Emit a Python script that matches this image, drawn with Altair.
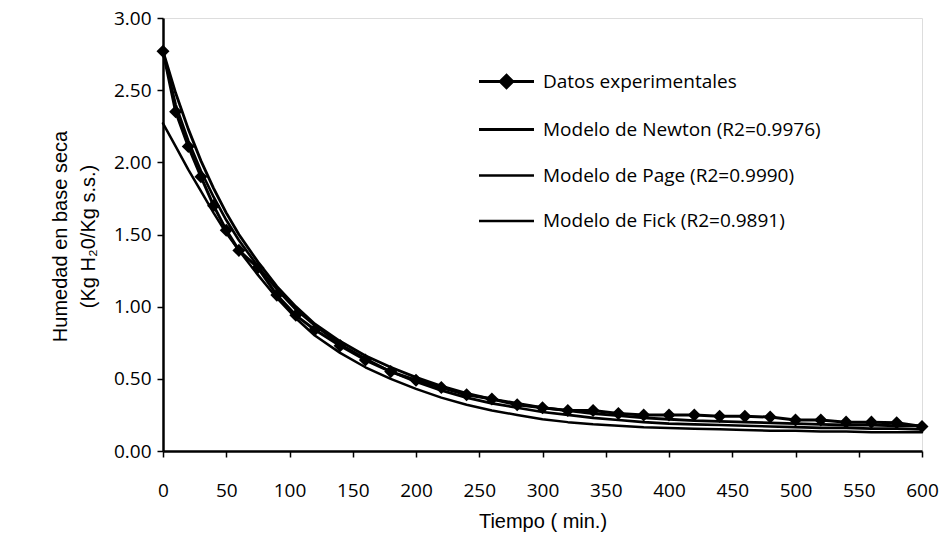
import altair as alt
import pandas as pd

# Tiempo (min)
t_exp = [0, 10, 20, 30, 40, 50, 60, 75, 90, 105, 120, 140, 160, 180, 200, 220, 240, 260,
         280, 300, 320, 340, 360, 380, 400, 420, 440, 460, 480, 500, 520, 540, 560, 580, 600]

datos = [2.77, 2.35, 2.11, 1.90, 1.70, 1.53, 1.39, 1.27, 1.08, 0.94, 0.84, 0.73, 0.63, 0.55,
         0.49, 0.44, 0.39, 0.36, 0.32, 0.30, 0.28, 0.28, 0.26, 0.25, 0.25, 0.25, 0.24, 0.24,
         0.235, 0.215, 0.215, 0.20, 0.20, 0.195, 0.17]

newton = [2.77, 2.48, 2.23, 2.01, 1.82, 1.65, 1.50, 1.31, 1.14, 1.00, 0.88, 0.76, 0.66, 0.58,
          0.51, 0.45, 0.40, 0.36, 0.33, 0.30, 0.28, 0.26, 0.245, 0.23, 0.22, 0.21, 0.205, 0.20,
          0.195, 0.19, 0.185, 0.18, 0.18, 0.175, 0.175]

page = [2.77, 2.40, 2.15, 1.94, 1.76, 1.60, 1.46, 1.28, 1.12, 0.98, 0.87, 0.74, 0.64, 0.55,
        0.48, 0.42, 0.37, 0.33, 0.30, 0.27, 0.25, 0.23, 0.215, 0.20, 0.19, 0.185, 0.18, 0.175,
        0.17, 0.165, 0.16, 0.16, 0.155, 0.155, 0.15]

fick = [2.27, 2.11, 1.95, 1.80, 1.65, 1.51, 1.39, 1.22, 1.06, 0.92, 0.80, 0.68, 0.58, 0.50,
        0.43, 0.37, 0.32, 0.28, 0.25, 0.22, 0.20, 0.185, 0.175, 0.165, 0.16, 0.155, 0.15, 0.145,
        0.14, 0.14, 0.135, 0.135, 0.13, 0.13, 0.13]

series_names = ["Datos experimentales", "Modelo de Newton (R2=0.9976)",
                "Modelo de Page (R2=0.9990)", "Modelo de Fick (R2=0.9891)"]
series_vals = [datos, newton, page, fick]
draw_order = [3, 2, 1, 0]

y_ticks = [0, 0.5, 1.0, 1.5, 2.0, 2.5, 3.0]
x_ticks = [0, 50, 100, 150, 200, 250, 300, 350, 400, 450, 500, 550, 600]

rows = []
for i, (name, vals) in enumerate(zip(series_names, series_vals)):
    for t, v in zip(t_exp, vals):
        rows.append({"t": t, "m": v, "serie": name, "orden": draw_order[i]})
df = pd.DataFrame(rows)

FONT = "Open Sans"

x_enc = alt.X("t:Q", scale=alt.Scale(domain=[0, 600], nice=False),
              axis=alt.Axis(values=x_ticks, title="Tiempo ( min.)", grid=False,
                            labelFont=FONT, labelFontSize=19, labelColor="black",
                            labelPadding=24, tickSize=6, tickColor="black", tickWidth=1.5,
                            domainColor="black", domainWidth=2.5, labelFlush=False,
                            titleFont="Liberation Sans", titleFontSize=20, titleFontWeight="normal",
                            titleColor="black", titleY=70, titleBaseline="middle"))
y_enc = alt.Y("m:Q", scale=alt.Scale(domain=[0, 3], nice=False),
              axis=alt.Axis(values=y_ticks, format=".2f", grid=False,
                            title=["Humedad en base seca", "(Kg H\u20820/Kg s.s.)"],
                            labelFont=FONT, labelFontSize=19, labelColor="black",
                            labelPadding=6, tickSize=6, tickColor="black", tickWidth=1.5,
                            domainColor="black", domainWidth=2.5,
                            titleFont="Liberation Sans", titleFontSize=20, titleFontWeight="normal",
                            titleColor="black", titleX=-103, titleY=218, titleAngle=-90,
                            titleAlign="center", titleBaseline="middle", titleLineHeight=28))

sym_shape = ("datum.value === 'Datos experimentales' ? "
             "'M-2,0H2M0,-0.45L0.45,0L0,0.45L-0.45,0Z' : 'M-2,0H2'")
sym_width = ("datum.value === 'Modelo de Page (R2=0.9990)' ? 2.2 : "
             "(datum.value === 'Modelo de Fick (R2=0.9891)' ? 3.8 : 3.2)")

legend = alt.Legend(title=None, orient="none", legendX=328, legendY=48,
                    symbolSize=756, symbolType={"expr": sym_shape},
                    symbolStrokeWidth={"expr": sym_width},
                    symbolFillColor="black", symbolStrokeColor="black", symbolOpacity=1,
                    labelFont=FONT, labelFontSize=19, labelColor="black", labelLimit=0,
                    labelOffset=21, rowPadding=20, padding=0)

lines = alt.Chart(df).mark_line(strokeCap="round", strokeJoin="round").encode(
    x=x_enc, y=y_enc,
    color=alt.Color("serie:N", scale=alt.Scale(domain=series_names, range=["black"] * 4),
                    legend=legend, sort=series_names),
    strokeWidth=alt.StrokeWidth("serie:N", scale=alt.Scale(domain=series_names,
                                                           range=[3, 2.5, 2, 3.5]),
                                legend=None),
    order=alt.Order("orden:Q"),
    detail="serie:N",
)

pts = alt.Chart(df).transform_filter(
    alt.datum.serie == "Datos experimentales"
).mark_point(shape="diamond", filled=True, size=170, color="black", opacity=1).encode(
    x=alt.X("t:Q"), y=alt.Y("m:Q"))

chart = alt.layer(lines, pts).properties(
    width=759, height=433,
    autosize=alt.AutoSizeParams(type="none"),
    padding={"left": 163, "top": 18, "right": 28, "bottom": 99},
).configure_view(stroke="black", strokeWidth=1.5).configure(background="white")

chart.save("out.html", embed_options={"renderer": "svg", "actions": False})
